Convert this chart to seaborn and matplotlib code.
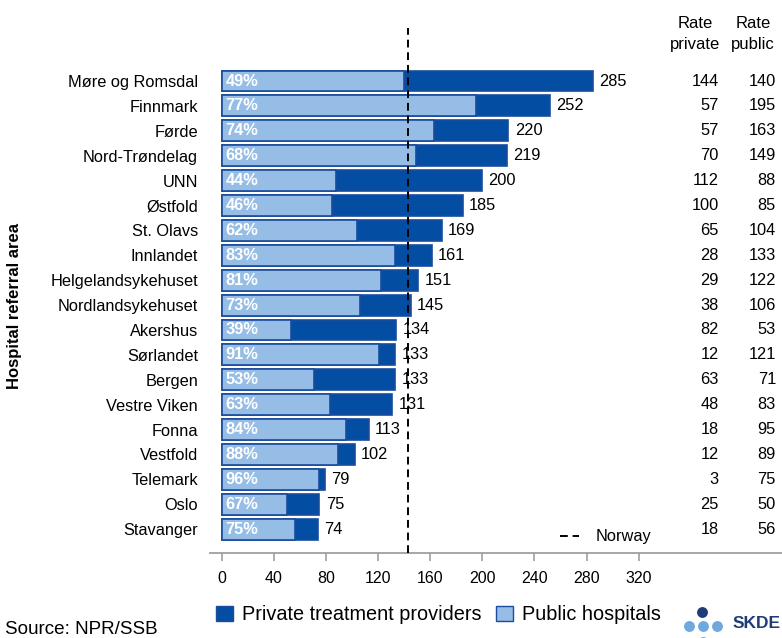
import matplotlib
matplotlib.use("Agg")
import matplotlib.pyplot as plt
from matplotlib.lines import Line2D
from matplotlib.patches import Patch
import pandas as pd
import seaborn as sns

# ---- data -------------------------------------------------------------------
areas = ["Møre og Romsdal", "Finnmark", "Førde", "Nord-Trøndelag", "UNN", "Østfold",
         "St. Olavs", "Innlandet", "Helgelandsykehuset", "Nordlandsykehuset", "Akershus",
         "Sørlandet", "Bergen", "Vestre Viken", "Fonna", "Vestfold", "Telemark", "Oslo",
         "Stavanger"]
total_rate = [285, 252, 220, 219, 200, 185, 169, 161, 151, 145, 134, 133, 133, 131, 113,
              102, 79, 75, 74]
public_share = [49, 77, 74, 68, 44, 46, 62, 83, 81, 73, 39, 91, 53, 63, 84, 88, 96, 67, 75]
rate_private = [144, 57, 57, 70, 112, 100, 65, 28, 29, 38, 82, 12, 63, 48, 18, 12, 3, 25, 18]
rate_public = [140, 195, 163, 149, 88, 85, 104, 133, 122, 106, 53, 121, 71, 83, 95, 89,
               75, 50, 56]
norway_rate = 143
x_ticks = [0, 40, 80, 120, 160, 200, 240, 280, 320]

DARK = "#034EA2"
LIGHT = "#95BDE5"
EDGE = "#1B4C9E"
NAVY = "#1F3C78"
FS = 11.8

sns.set_theme(style="white")
plt.rcParams["font.family"] = ["Liberation Sans", "DejaVu Sans"]
plt.rcParams["text.color"] = "black"
plt.rcParams["xtick.labelcolor"] = "black"
plt.rcParams["ytick.labelcolor"] = "black"

df = pd.DataFrame({"area": areas, "total": total_rate, "public": rate_public})

fig = plt.figure(figsize=(7.82, 6.38), dpi=100)
ax = fig.add_axes([210 / 782, 1 - 553 / 638, 572 / 782, 525 / 638])

# full bar (private on top of public), then public share overlaid
sns.barplot(data=df, x="total", y="area", orient="h", color=DARK, saturation=1,
            edgecolor=EDGE, linewidth=1.2, width=0.84, ax=ax)
sns.barplot(data=df, x="public", y="area", orient="h", color=LIGHT, saturation=1,
            edgecolor=EDGE, linewidth=1.2, width=0.84, ax=ax)

ax.axvline(norway_rate, color="black", lw=1.4, ls=(0, (4, 2.5)), zorder=5)

for i, (t, p, rp, rq) in enumerate(zip(total_rate, public_share, rate_private, rate_public)):
    ax.text(3, i, f"{p}%", color="white", fontweight="bold", fontsize=FS,
            va="center", ha="left", zorder=6)
    ax.annotate(str(t), xy=(t, i), xytext=(4.5, 0), textcoords="offset points",
                va="center", ha="left", fontsize=FS, color="black")
    ax.text(381.6, i, str(rp), ha="right", va="center", fontsize=FS)
    ax.text(425.3, i, str(rq), ha="right", va="center", fontsize=FS)

ax.text(363.3, -2.33, "Rate", ha="center", va="center", fontsize=12)
ax.text(363.3, -1.48, "private", ha="center", va="center", fontsize=12)
ax.text(407.8, -2.33, "Rate", ha="center", va="center", fontsize=12)
ax.text(407.8, -1.48, "public", ha="center", va="center", fontsize=12)

ax.set_xlim(-9, 430)
ax.set_ylim(18.96, -2.13)
ax.set_xticks(x_ticks)
ax.set_xlabel("")
ax.set_ylabel("")
ax.tick_params(axis="x", length=6, width=1.2, color="#A0A0A0", pad=7, labelsize=11.5,
               bottom=True)
ax.tick_params(axis="y", length=0, pad=8.6, labelsize=FS)
for side in ("left", "right", "top"):
    ax.spines[side].set_visible(False)
ax.spines["bottom"].set_color("#A0A0A0")
ax.spines["bottom"].set_linewidth(1.3)

ax.legend(handles=[Line2D([], [], color="black", lw=1.4, ls=(0, (4, 2.5)))],
          labels=["Norway"], loc="center left", bbox_to_anchor=(0.612, 0.0305),
          frameon=False, fontsize=FS, handlelength=1.15, handletextpad=1.0,
          borderpad=0, borderaxespad=0)

fig.text(15 / 782, 1 - 306 / 638, "Hospital referral area", rotation=90, ha="center",
         va="center", fontsize=12, fontweight="bold")

fig.legend(handles=[Patch(facecolor=DARK, edgecolor=EDGE, lw=1.0),
                    Patch(facecolor=LIGHT, edgecolor=EDGE, lw=1.0)],
           labels=["Private treatment providers", "Public hospitals"],
           loc="center left", bbox_to_anchor=(216 / 782, 1 - 615 / 638), ncol=2,
           frameon=False, fontsize=14.35, handlelength=0.84, handleheight=0.84,
           handletextpad=0.47, columnspacing=0.73, borderpad=0, borderaxespad=0)

fig.text(5 / 782, 1 - 634 / 638, "Source: NPR/SSB", ha="left", va="baseline",
         fontsize=13.6)

# SKDE logo
for (px, py, c) in [(702, 612, NAVY), (689, 626, "#6FA8DC"), (703, 626, "#6FA8DC"),
                    (717, 626, "#6FA8DC"), (703, 642, "#6FA8DC")]:
    fig.add_artist(Line2D([px / 782], [1 - py / 638], marker="o", ms=6.8, color=c,
                          transform=fig.transFigure, lw=0))
fig.text(733 / 782, 1 - 624 / 638, "SKDE", ha="left", va="center", fontsize=12.5,
         fontweight="bold", color=NAVY)

fig.savefig("out.png", dpi=100)
